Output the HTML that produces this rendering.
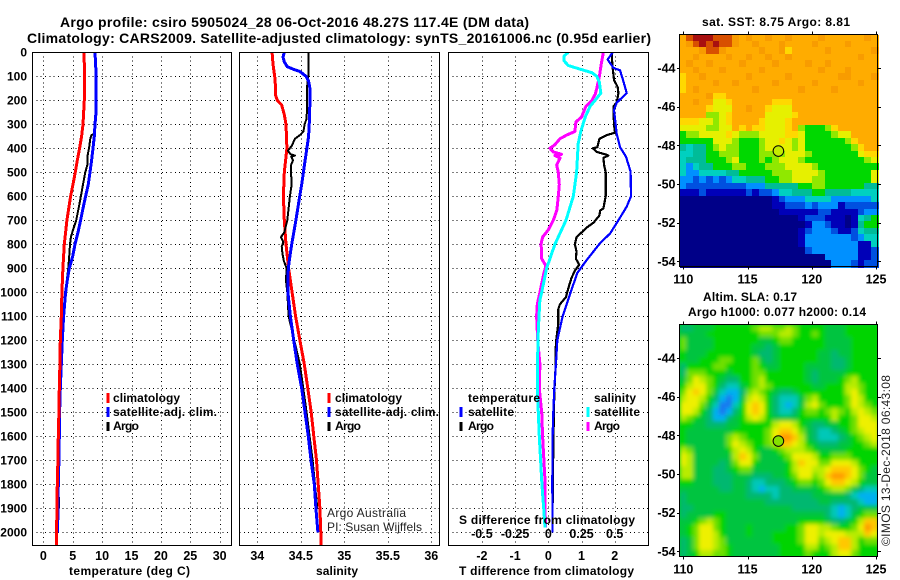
<!DOCTYPE html>
<html lang="en">
<head>
<meta charset="utf-8">
<title>Argo profile 5905024_28</title>
<style>
html,body{margin:0;padding:0;background:#fff;width:900px;height:580px;overflow:hidden}
svg{display:block}
text{font-family:"Liberation Sans",Arial,sans-serif;font-weight:bold;font-size:12px;fill:#000}
.ttl{font-size:14px}
.thin{font-weight:normal;fill:#222}
.frame{fill:none;stroke:#000;stroke-width:1;shape-rendering:crispEdges}
.grid{stroke:#000;stroke-width:1;stroke-dasharray:1 3.33;shape-rendering:crispEdges}
.tick{stroke:#000;stroke-width:1;shape-rendering:crispEdges}
.series{fill:none;stroke-linejoin:round;shape-rendering:crispEdges}
.dash{stroke-width:2.6;shape-rendering:crispEdges}
</style>
</head>
<body>
<svg id="chart" xmlns="http://www.w3.org/2000/svg" width="900" height="580" viewBox="0 0 900 580">
<defs>
<clipPath id="clipT"><rect x="32" y="52" width="199" height="493"/></clipPath>
<clipPath id="clipS"><rect x="239" y="52" width="200" height="493"/></clipPath>
<clipPath id="clipD"><rect x="448" y="52" width="200" height="493"/></clipPath>
<clipPath id="clipM2"><rect x="680" y="325" width="198" height="232"/></clipPath>
<filter id="soft" x="-5%" y="-5%" width="110%" height="110%"><feGaussianBlur stdDeviation="2.1"/></filter>
</defs>
<rect width="900" height="580" fill="#fff"/>

<text class="ttl" x="60" y="27" textLength="469" lengthAdjust="spacing">Argo profile: csiro 5905024_28 06-Oct-2016 48.27S 117.4E (DM data)</text>
<text class="ttl" x="27" y="43" textLength="624" lengthAdjust="spacing">Climatology: CARS2009. Satellite-adjusted climatology: synTS_20161006.nc (0.95d earlier)</text>

<g id="gridLayer"></g>
<g id="seriesT" clip-path="url(#clipT)"></g>
<g id="seriesS" clip-path="url(#clipS)"></g>
<g id="seriesD" clip-path="url(#clipD)"></g>

<rect class="frame" x="32.5" y="52.5" width="199" height="493"/>
<rect class="frame" x="239.5" y="52.5" width="200" height="493"/>
<rect class="frame" x="448.5" y="52.5" width="200" height="493"/>

<g id="tickLabels"></g>

<text x="69" y="575" textLength="121" lengthAdjust="spacing">temperature (deg C)</text>
<text x="316" y="575" textLength="42" lengthAdjust="spacing">salinity</text>
<text x="459" y="575" textLength="175" lengthAdjust="spacing">T difference from climatology</text>
<text x="459" y="524" textLength="176" lengthAdjust="spacing">S difference from climatology</text>

<g>
<line class="dash" x1="108" y1="393" x2="108" y2="403" stroke="#f00"/>
<text x="113" y="402" textLength="67" lengthAdjust="spacing">climatology</text>
<line class="dash" x1="108" y1="407" x2="108" y2="417" stroke="#00f"/>
<text x="113" y="416" textLength="104" lengthAdjust="spacing">satellite-adj. clim.</text>
<line class="dash" x1="108" y1="422" x2="108" y2="431" stroke="#000"/>
<text x="113" y="430" textLength="26" lengthAdjust="spacing">Argo</text>
</g>
<g>
<line class="dash" x1="329" y1="393" x2="329" y2="403" stroke="#f00"/>
<text x="335" y="402" textLength="67" lengthAdjust="spacing">climatology</text>
<line class="dash" x1="329" y1="407" x2="329" y2="417" stroke="#00f"/>
<text x="335" y="416" textLength="104" lengthAdjust="spacing">satellite-adj. clim.</text>
<line class="dash" x1="329" y1="422" x2="329" y2="431" stroke="#000"/>
<text x="335" y="430" textLength="26" lengthAdjust="spacing">Argo</text>
</g>
<text class="thin" x="327" y="517" textLength="79" lengthAdjust="spacing">Argo Australia</text>
<text class="thin" x="327" y="531" textLength="95" lengthAdjust="spacing">PI: Susan Wijffels</text>

<g>
<text x="468" y="402" textLength="72" lengthAdjust="spacing">temperature</text>
<line class="dash" x1="461" y1="407" x2="461" y2="417" stroke="#00f"/>
<text x="468" y="416" textLength="46" lengthAdjust="spacing">satellite</text>
<line class="dash" x1="461" y1="422" x2="461" y2="431" stroke="#000"/>
<text x="468" y="430" textLength="26" lengthAdjust="spacing">Argo</text>
<text x="594" y="402" textLength="42" lengthAdjust="spacing">salinity</text>
<line class="dash" x1="588" y1="407" x2="588" y2="417" stroke="#0ff"/>
<text x="594" y="416" textLength="46" lengthAdjust="spacing">satellite</text>
<line class="dash" x1="588" y1="422" x2="588" y2="431" stroke="#f0f"/>
<text x="594" y="430" textLength="26" lengthAdjust="spacing">Argo</text>
</g>

<text x="702" y="26" textLength="148" lengthAdjust="spacing">sat. SST: 8.75 Argo: 8.81</text>
<g id="sstCells"></g>
<rect class="frame" x="679.5" y="34.5" width="198" height="232"/>
<g id="sstAxis"></g>
<circle id="sstArgo" r="5.3" fill="#c4ec00" stroke="#000" stroke-width="1"/>

<text x="703" y="301" textLength="94" lengthAdjust="spacing">Altim. SLA: 0.17</text>
<text x="688" y="316" textLength="178" lengthAdjust="spacing">Argo h1000: 0.077 h2000: 0.14</text>
<g clip-path="url(#clipM2)">
<rect x="679" y="324" width="200" height="234" fill="#00cc30"/>
<g id="slaCells" filter="url(#soft)"></g>
</g>
<rect class="frame" x="679.5" y="324.5" width="198" height="232"/>
<g id="slaAxis"></g>
<circle id="slaArgo" r="5.3" fill="#84e000" stroke="#000" stroke-width="1"/>
<text class="thin" x="890" y="546" transform="rotate(-90 890 546)" textLength="171" lengthAdjust="spacing">©IMOS 13-Dec-2018 06:43:08</text>
</svg>

<script>
// ---- axis ticks ----
const depthTicks = [0,100,200,300,400,500,600,700,800,900,1000,1100,1200,1300,1400,1500,1600,1700,1800,1900,2000];
const tempTicks = [0,5,10,15,20,25,30];
const salTicks = [34,34.5,35,35.5,36];
const tDiffTicks = [-2,-1,0,1,2];
const sDiffTicks = [-0.5,-0.25,0,0.25,0.5];
const lonTicks = [110,115,120,125];
const latTicks = [-44,-46,-48,-50,-52,-54];

// ---- temperature profiles ----
const tempClimDepth = [0,100,200,300,350,400,450,500,550,600,700,800,900,1000,1100,1200,1300,1400,1500,1600,1700,1800,1900,2000,2054];
const tempClimValues = [6.92,7.03,6.97,6.75,6.52,6.18,5.78,5.44,5.05,4.65,4.02,3.57,3.34,3.17,3.06,2.89,2.83,2.72,2.66,2.55,2.49,2.38,2.32,2.27,2.27];
const tempSatDepth = [0,100,200,250,300,350,400,450,500,550,600,650,700,750,800,850,900,950,1000,1100,1200,1300,1400,1500,1600,1700,1800,1900,2000];
const tempSatValues = [8.79,9.0,9.0,8.96,8.79,8.67,8.45,8.22,7.94,7.65,7.2,6.75,6.35,5.9,5.39,5.0,4.42,4.08,3.8,3.46,3.23,3.06,2.89,2.78,2.72,2.66,2.55,2.49,2.44];
const tempArgoDepth = [0,100,200,300,340,345,360,400,430,470,500,550,600,650,700,750,770,800,850,900,1000,1100,1200,1300,1400,1500,1600,1700,1800,1900];
const tempArgoValues = [8.9,8.96,8.96,8.84,8.67,8.2,8.0,7.77,7.54,7.48,7.14,6.75,6.4,6.0,5.6,4.93,4.7,4.54,4.4,4.25,3.74,3.4,3.17,3.0,2.89,2.78,2.66,2.6,2.6,2.66];

// ---- salinity profiles ----
const salClimDepth = [0,50,100,150,180,200,220,260,300,400,500,600,700,800,900,1000,1100,1200,1300,1400,1500,1600,1700,1800,1900,2000,2054];
const salClimValues = [34.17,34.18,34.2,34.21,34.21,34.23,34.28,34.31,34.33,34.34,34.31,34.3,34.31,34.33,34.36,34.4,34.44,34.49,34.54,34.58,34.62,34.65,34.68,34.7,34.72,34.73,34.73];
const salSatDepth = [0,20,40,60,70,80,100,120,150,200,280,300,350,400,450,500,550,600,700,800,850,900,1000,1100,1200,1300,1400,1500,1600,1700,1800,1900,2000];
const salSatValues = [34.31,34.295,34.31,34.345,34.41,34.49,34.56,34.59,34.605,34.605,34.6,34.597,34.59,34.57,34.55,34.53,34.51,34.487,34.444,34.395,34.375,34.356,34.352,34.38,34.418,34.46,34.51,34.548,34.586,34.617,34.655,34.674,34.697];
const salArgoDepth = [0,100,150,250,280,300,330,345,360,390,410,425,430,435,450,470,500,550,600,650,700,750,770,790,810,840,870,900,950,1000,1100,1300,1500,1700,1900];
const salArgoValues = [34.59,34.586,34.57,34.57,34.563,34.544,34.53,34.49,34.433,34.395,34.352,34.383,34.433,34.39,34.41,34.387,34.387,34.395,34.375,34.36,34.345,34.31,34.272,34.3,34.28,34.29,34.306,34.337,34.33,34.345,34.36,34.49,34.567,34.636,34.69];

// ---- difference profiles ----
const dTSatDepth = [0,30,65,75,115,170,210,240,340,395,435,497,600,643,700,755,795,865,920,990,1030,1100,1200,1300,1400,1500,1600,1800,2000];
const dTSatValues = [1.94,1.79,1.96,2.16,2.25,2.36,2.06,1.98,2.06,2.16,2.34,2.48,2.49,2.36,2.11,1.86,1.56,1.16,0.87,0.7,0.6,0.43,0.27,0.23,0.18,0.15,0.13,0.12,0.13];
const dTArgoDepth = [0,30,65,115,145,170,210,225,300,335,345,360,395,400,415,425,430,440,470,500,550,600,650,660,680,710,730,755,770,800,830,860,885,910,940,985,1020,1050,1070,1130,1210,1310,1420,1640,1900];
const dTArgoValues = [1.92,1.92,1.94,1.98,2.09,2.11,2.06,1.96,1.98,2.01,1.76,1.54,1.48,1.34,1.46,1.71,1.81,1.66,1.68,1.73,1.73,1.73,1.66,1.56,1.54,1.36,1.16,0.97,0.85,0.8,0.85,0.83,0.93,0.8,0.7,0.6,0.53,0.35,0.3,0.3,0.23,0.22,0.18,0.15,0.13];
const dSSatDepth = [0,15,35,55,70,85,100,125,170,200,225,270,330,380,500,600,700,800,900,1000,1030,1100,1200,1400,1500,1600,1700,1800,1900,1980];
const dSSatValues = [0.15,0.12,0.118,0.15,0.238,0.328,0.365,0.385,0.395,0.353,0.315,0.278,0.245,0.225,0.213,0.188,0.133,0.05,-0.013,-0.05,-0.063,-0.07,-0.078,-0.083,-0.075,-0.068,-0.058,-0.048,-0.035,-0.025];
const dSArgoDepth = [0,50,100,150,175,200,225,270,290,330,345,360,385,400,415,425,430,440,470,500,550,600,640,660,700,740,770,800,830,860,890,920,1000,1050,1100,1200,1300,1400,1500,1600,1700,1800,1900,1980];
const dSArgoValues = [0.415,0.398,0.385,0.365,0.353,0.328,0.283,0.25,0.208,0.2,0.138,0.088,0.05,0.013,0.038,0.1,0.05,0.088,0.063,0.075,0.083,0.075,0.068,0.063,0.038,0,-0.043,-0.055,-0.05,-0.05,-0.018,-0.033,-0.063,-0.083,-0.088,-0.08,-0.063,-0.068,-0.05,-0.043,-0.033,-0.023,-0.025,-0.02];

// ---- map location ----
const argoLon = 117.4;
const argoLat = -48.27;

// ---- SST map levels (rows north to south) ----
const sstRows = [
[10,12,13,13,13,12,12,12,11,10,11,10,10,11,10,10,11,10,10,10,10,11,10,10,10,10,10,10,11,10],
[10,11,12,13,12,13,12,12,11,10,10,11,10,10,10,11,10,10,10,10,11,10,10,10,10,11,10,10,10,10],
[10,10,10,11,12,12,11,10,10,10,10,10,11,10,10,11,9,10,10,10,10,10,11,10,10,10,10,10,10,11],
[10,10,11,10,10,10,10,11,10,10,11,10,10,11,10,10,11,10,10,10,10,10,10,10,10,10,10,11,10,10],
[10,11,10,10,11,10,10,10,10,11,10,10,10,10,11,10,10,10,10,11,10,10,11,10,10,10,10,10,10,10],
[10,10,11,10,10,10,11,10,10,10,10,10,11,10,10,10,10,10,10,10,10,11,10,10,10,11,10,10,10,10],
[9,10,10,11,10,10,10,10,10,10,11,10,10,10,10,10,11,10,10,10,10,10,10,10,11,11,10,10,10,11],
[9,10,10,10,10,11,10,10,11,10,10,10,10,10,11,10,10,10,10,10,11,10,10,10,10,10,10,11,10,10],
[9,10,11,10,10,10,10,10,10,10,10,11,10,10,10,10,10,10,11,10,10,10,10,11,10,10,10,10,10,10],
[10,10,10,10,11,9,9,10,10,10,10,10,10,10,10,10,10,10,10,10,10,10,10,10,10,10,10,10,10,10],
[10,10,11,10,10,8,8,9,10,10,10,10,10,10,9,9,9,10,10,10,10,10,10,10,10,10,10,10,10,10],
[10,10,10,10,9,8,8,8,10,10,11,10,10,9,8,8,8,10,10,10,10,10,10,10,10,10,10,10,10,10],
[10,10,10,10,7,7,8,9,10,10,10,10,10,8,8,8,8,9,10,10,10,10,10,10,10,10,10,10,10,10],
[9,9,9,8,8,7,8,9,10,10,10,10,9,8,8,8,9,10,10,10,10,10,10,10,10,10,10,10,10,10],
[8,8,8,8,7,7,8,8,10,9,10,9,9,8,8,8,9,10,7,6,6,6,7,9,10,10,10,10,10,10],
[6,7,7,8,8,8,8,9,8,7,7,7,8,8,8,8,9,9,8,6,6,6,6,7,8,8,10,10,10,10],
[6,6,6,6,6,8,8,8,7,6,6,6,7,8,8,9,8,7,8,6,6,6,6,6,6,7,9,10,10,10],
[5,4,5,5,6,7,8,7,7,6,6,6,7,8,8,8,8,7,8,6,6,6,6,6,6,6,7,9,10,10],
[4,4,5,5,6,6,7,7,7,6,6,6,7,7,7,7,8,8,8,7,6,6,6,6,6,6,6,8,9,9],
[4,5,5,5,6,6,6,7,8,6,6,6,7,6,7,8,8,8,7,6,6,6,6,6,6,6,6,6,7,8],
[4,3,4,5,5,6,6,6,7,7,6,6,6,7,7,7,8,8,8,8,7,6,6,6,6,6,6,6,6,6],
[4,3,3,4,4,4,4,5,5,6,6,6,6,6,7,7,7,8,8,8,8,7,6,6,6,6,6,6,6,8],
[3,3,2,3,2,3,2,3,4,4,5,5,5,6,6,7,7,8,8,8,7,7,6,6,6,6,6,6,6,8],
[3,2,2,2,2,2,2,2,2,2,3,3,3,5,5,5,5,5,6,6,7,7,6,6,6,6,6,6,5,5],
[1,1,1,2,1,1,1,1,1,1,2,1,2,2,3,4,4,5,5,5,6,6,5,5,5,5,4,4,4,4],
[0,0,0,0,0,0,0,0,0,0,0,0,0,0,1,2,3,3,3,4,4,4,4,3,3,3,3,3,3,4],
[0,0,0,0,0,0,0,0,0,0,0,0,0,0,1,1,2,2,2,3,2,3,3,3,1,2,2,2,2,2],
[0,0,0,0,0,0,0,0,0,0,0,0,0,0,0,1,1,1,1,1,1,2,2,1,1,1,1,2,3,3],
[0,0,0,0,0,0,0,0,0,0,0,0,0,0,0,0,0,0,1,2,2,2,1,1,1,0,1,4,5,6],
[0,0,0,0,0,0,0,0,0,0,0,0,0,0,0,0,0,0,0,1,3,3,2,1,1,0,1,5,6,6],
[0,0,0,0,0,0,0,0,0,0,0,0,0,0,0,0,0,0,1,2,3,3,3,2,1,1,2,4,5,5],
[0,0,0,0,0,0,0,0,0,0,0,0,0,0,0,0,0,0,1,3,3,3,3,3,3,3,2,3,4,4],
[0,0,0,0,0,0,0,0,0,0,0,0,0,0,0,0,0,0,1,3,3,3,3,3,3,3,3,1,1,4],
[0,0,0,0,0,0,0,0,0,0,0,0,0,0,0,0,0,0,0,2,3,3,3,3,3,3,3,1,1,2],
[0,0,0,0,0,0,0,0,0,0,0,0,0,0,0,0,0,0,0,0,0,0,3,3,3,3,3,1,1,2],
[0,0,0,0,0,0,0,0,0,0,0,0,0,0,0,0,0,0,0,0,0,0,0,3,3,3,2,1,2,2]
];

// ---- SLA map levels (rows north to south) ----
const slaRows = [
[3,3,4,4,4,5,5,5,5,5,5,6,7,7,6,6,7,6,5,5,5,5,4,4,4,5,5,5,5,5],
[4,4,4,4,5,5,5,5,5,5,5,5,6,6,6,7,7,6,5,5,6,5,4,4,4,5,5,5,5,5],
[6,4,4,4,4,5,5,5,5,5,5,5,4,4,5,6,6,5,5,5,5,5,4,4,4,4,5,5,5,5],
[6,4,4,4,4,5,5,5,5,5,5,4,4,3,4,5,5,5,5,5,5,5,4,4,4,4,5,5,5,5],
[5,4,4,4,5,5,5,5,5,5,5,4,3,3,4,5,5,5,5,5,5,4,4,3,4,4,5,5,5,5],
[5,4,4,5,5,5,6,6,5,5,5,6,4,3,4,5,5,5,5,5,5,4,4,3,3,4,5,5,5,5],
[3,5,5,5,5,6,6,5,5,5,5,6,5,4,4,5,5,5,5,4,4,4,4,3,3,4,5,5,5,5],
[3,6,6,6,5,5,5,4,5,5,5,6,6,5,5,5,5,5,5,4,3,4,4,4,4,5,5,5,5,5],
[4,6,8,7,6,5,4,3,3,5,5,6,7,5,5,5,5,5,5,4,3,4,4,4,5,6,7,5,5,5],
[5,7,8,8,6,5,3,2,2,4,5,6,7,6,5,5,5,5,5,5,4,4,5,5,5,7,7,6,5,5],
[6,8,9,8,6,4,2,1,1,3,6,7,6,5,4,3,3,4,5,5,5,5,5,5,5,7,8,6,5,5],
[7,8,8,7,5,3,1,0,1,4,7,8,7,5,3,2,2,2,4,6,7,5,5,5,5,6,8,7,5,5],
[8,8,8,6,4,2,0,0,2,5,8,9,8,5,3,2,1,2,4,7,8,6,5,5,5,6,8,7,6,5],
[8,8,7,5,3,1,0,1,3,5,8,9,8,5,3,2,2,3,5,6,6,5,6,7,6,5,7,8,7,6],
[7,6,5,4,3,1,1,3,4,5,7,8,7,5,4,4,4,4,5,5,5,5,5,7,5,5,6,8,8,7],
[5,5,4,4,3,3,3,4,4,5,5,5,5,5,7,8,8,7,5,4,3,3,4,4,5,5,6,8,8,8],
[5,4,4,4,4,4,4,4,5,5,5,5,5,6,8,9,9,8,6,4,3,2,2,3,4,5,6,7,8,8],
[5,4,4,4,4,4,4,6,7,6,5,5,5,6,8,10,10,9,7,4,3,2,2,2,3,4,5,6,7,8],
[5,4,4,4,4,4,4,6,8,7,6,5,5,6,7,9,9,8,7,5,4,3,3,3,4,4,5,5,6,7],
[7,6,4,4,4,4,4,5,7,8,7,5,4,4,5,6,7,7,7,6,5,4,4,4,4,5,5,5,5,5],
[8,7,4,4,4,4,4,4,7,9,8,6,4,4,4,5,6,8,8,8,7,5,5,6,6,6,5,5,5,5],
[8,7,4,4,4,4,3,4,6,8,8,5,4,4,4,4,5,7,9,8,8,6,6,8,8,8,7,5,5,5],
[7,7,4,4,4,3,3,4,5,6,6,4,4,4,4,4,5,7,8,8,7,7,8,9,9,9,8,6,5,4],
[7,7,4,4,4,3,3,3,4,4,4,3,3,3,4,4,5,6,8,8,6,7,9,10,10,9,8,6,4,4],
[5,5,4,4,4,3,3,3,4,4,3,2,2,3,3,3,4,5,6,6,5,6,8,9,9,8,7,5,4,4],
[4,4,4,4,4,4,3,3,4,4,3,2,1,2,2,3,3,4,4,4,4,5,6,7,7,6,4,3,2,2],
[3,4,4,4,4,4,4,4,4,4,3,3,3,3,2,3,3,3,3,3,4,4,4,4,4,3,2,1,1,1],
[3,4,4,4,4,4,4,4,4,4,4,4,4,3,3,3,3,3,3,3,3,4,4,3,3,3,3,2,1,1],
[3,3,4,4,4,4,4,4,4,4,4,4,4,4,4,4,4,3,3,3,3,3,3,2,1,2,3,4,4,4],
[3,4,4,4,4,5,5,4,4,4,4,4,4,4,4,4,4,4,4,4,4,4,3,2,1,2,4,5,6,6],
[4,4,5,6,7,6,5,4,4,4,4,4,4,4,4,4,4,4,5,5,5,5,4,3,3,4,5,7,9,9],
[4,5,6,8,8,6,5,4,4,4,5,4,4,4,4,4,5,5,6,8,8,7,7,6,5,5,6,8,10,9],
[4,5,6,8,8,7,5,4,4,4,5,4,4,4,5,5,5,5,6,8,8,7,8,8,8,7,7,7,9,8],
[3,4,6,8,8,7,6,4,4,4,4,4,4,4,5,5,5,5,6,8,8,6,7,8,9,9,7,5,6,6],
[3,4,6,8,8,7,6,5,4,4,4,4,4,4,4,5,5,5,5,7,7,5,6,7,9,9,7,5,5,5],
[3,4,5,7,7,6,6,5,4,4,4,4,4,4,4,5,5,5,5,6,5,5,5,7,8,8,6,5,5,5]
];

const SVGNS = 'http://www.w3.org/2000/svg';
const sstPalette = ['#000088','#0000b8','#0050e0','#0090ff','#00d0c0','#00bc98','#00d800','#90e800','#e6f000','#ffd800','#ffac00','#f89c00','#d85000','#a81010'];
const slaPalette = ['#1878f0','#00b0f0','#00c8b8','#00b870','#00c440','#00d400','#70e000','#b8ec00','#eef000','#ffc800','#ff9800'];

function yDepth(d){ return 52.3 + 0.24 * d; }
function xTemp(t){ return 43.3 + 5.88 * t; }
function xSal(s){ return 257.3 + 87 * (s - 34); }
function xDiffT(t){ return 548.3 + 33.2 * t; }
function xDiffS(s){ return 548.3 + 132.8 * s; }
function lonX(lon){ return 683.3 + 12.85 * (lon - 110); }
function latY(base, lat){ return base + 19.33 * (-44 - lat); }

function make(tag, parent, attrs){
  const n = document.createElementNS(SVGNS, tag);
  for (const k in attrs) n.setAttribute(k, attrs[k]);
  parent.appendChild(n);
  return n;
}

const gridLayer = document.getElementById('gridLayer');
const tickLabels = document.getElementById('tickLabels');

// horizontal depth grid across three panels + depth labels
[[32,231],[239.5,439],[448,648]].forEach(function(span){
  depthTicks.forEach(function(d){
    const y = Math.round(yDepth(d)) + 0.5;
    const l = make('line', gridLayer, {x1:span[0], x2:span[1], y1:y, y2:y, class:'grid'});
    
    
  });
});
depthTicks.forEach(function(d){
  const t = make('text', tickLabels, {x:27, y:yDepth(d)+4.3, 'text-anchor':'end'});
  
  
  t.textContent = d;
});

function vertGrid(ticks, fx){
  ticks.forEach(function(v){
    const x = Math.round(fx(v)) + 0.5;
    const l = make('line', gridLayer, {x1:x, x2:x, y1:52, y2:545, class:'grid'});
    
    
  });
}
vertGrid(tempTicks, xTemp);
vertGrid(salTicks, xSal);
vertGrid(tDiffTicks, xDiffT);

function bottomLabels(ticks, fx, y){
  ticks.forEach(function(v){
    const t = make('text', tickLabels, {x:fx(v), y:y, 'text-anchor':'middle', style:'font-size:12.5px'});
    
    
    t.textContent = v;
  });
}
bottomLabels(tempTicks, xTemp, 560);
bottomLabels(salTicks, xSal, 560);
bottomLabels(tDiffTicks, xDiffT, 560);
bottomLabels(sDiffTicks, xDiffS, 538);

function drawLine(parentId, depths, values, fx, color, width, name){
  const pts = depths.map(function(d, i){ return fx(values[i]).toFixed(1) + ',' + yDepth(d).toFixed(1); }).join(' ');
  const p = make('polyline', document.getElementById(parentId), {points:pts, class:'series', stroke:color, 'stroke-width':width});
  
  
}

drawLine('seriesT', tempArgoDepth, tempArgoValues, xTemp, '#000', 2, 'temperature-argo-line');
drawLine('seriesT', tempSatDepth, tempSatValues, xTemp, '#00f', 3, 'temperature-satellite-line');
drawLine('seriesT', tempClimDepth, tempClimValues, xTemp, '#f00', 3, 'temperature-climatology-line');

drawLine('seriesS', salClimDepth, salClimValues, xSal, '#f00', 3, 'salinity-climatology-line');
drawLine('seriesS', salArgoDepth, salArgoValues, xSal, '#000', 2, 'salinity-argo-line');
drawLine('seriesS', salSatDepth, salSatValues, xSal, '#00f', 3, 'salinity-satellite-line');

drawLine('seriesD', dSArgoDepth, dSArgoValues, xDiffS, '#f0f', 3, 's-difference-argo-line');
drawLine('seriesD', dSSatDepth, dSSatValues, xDiffS, '#0ff', 3, 's-difference-satellite-line');
drawLine('seriesD', dTArgoDepth, dTArgoValues, xDiffT, '#000', 2.2, 't-difference-argo-line');
drawLine('seriesD', dTSatDepth, dTSatValues, xDiffT, '#00f', 2.2, 't-difference-satellite-line');

function drawMap(groupId, rows, palette, top){
  const g = document.getElementById(groupId);
  const cw = 198 / rows[0].length;
  const ch = 232 / rows.length;
  rows.forEach(function(row, r){
    row.forEach(function(v, c){
      const x = Math.floor(680 + c * cw);
      const y = Math.floor(top + r * ch);
      const cell = make('rect', g, {x:x, y:y, width:Math.ceil(cw)+1, height:Math.ceil(ch)+1, fill:palette[v], 'shape-rendering':'crispEdges'});
      
      
    });
  });
}
drawMap('sstCells', sstRows, sstPalette, 35);
drawMap('slaCells', slaRows, slaPalette, 325);

function mapAxes(groupId, base, top, labelY){
  const g = document.getElementById(groupId);
  lonTicks.forEach(function(lon){
    const x = Math.round(lonX(lon)) + 0.5;
    const a = make('line', g, {x1:x, x2:x, y1:top-3, y2:top, class:'tick'});
    
    
    const b = make('line', g, {x1:x, x2:x, y1:top+232, y2:top+235, class:'tick'});
    
    
    const t = make('text', g, {x:lonX(lon), y:labelY, 'text-anchor':'middle', style:'font-size:12.5px'});
    
    
    t.textContent = lon;
  });
  latTicks.forEach(function(lat){
    const y = Math.round(latY(base, lat)) + 0.5;
    const a = make('line', g, {x1:677, x2:680, y1:y, y2:y, class:'tick'});
    
    
    const b = make('line', g, {x1:878, x2:881, y1:y, y2:y, class:'tick'});
    
    
    const t = make('text', g, {x:675.5, y:latY(base, lat)+4.5, 'text-anchor':'end', style:'font-size:12.5px'});
    
    
    t.textContent = lat;
  });
}
mapAxes('sstAxis', 68, 34.5, 283.5);
mapAxes('slaAxis', 358, 324.5, 573.5);

const sstArgo = document.getElementById('sstArgo');
sstArgo.setAttribute('cx', lonX(argoLon));
sstArgo.setAttribute('cy', latY(68.5, argoLat));
const slaArgo = document.getElementById('slaArgo');
slaArgo.setAttribute('cx', lonX(argoLon));
slaArgo.setAttribute('cy', latY(358.5, argoLat));
</script>
</body>
</html>
